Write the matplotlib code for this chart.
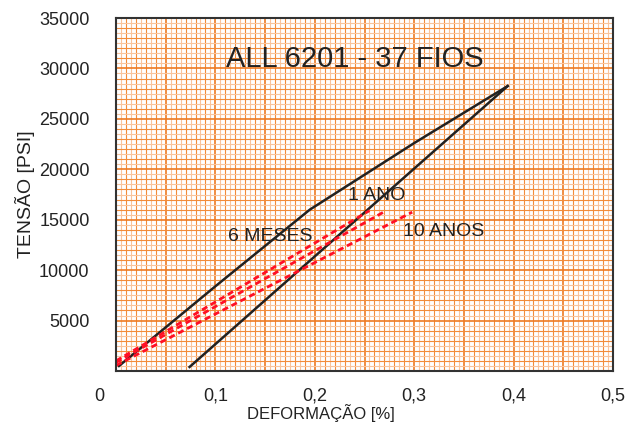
import matplotlib
matplotlib.use("Agg")
import matplotlib.pyplot as plt
import numpy as np

plt.rcParams['font.family'] = ['Liberation Sans', 'DejaVu Sans']

# Data
load_x = [0.003, 0.1, 0.195, 0.3, 0.394]
load_y = [500, 8400, 16000, 22600, 28250]
unload_x = [0.074, 0.394]
unload_y = [400, 28250]

creep_6m_x = [0.0, 0.255]
creep_6m_y = [1000, 15900]
creep_1a_x = [0.0, 0.27]
creep_1a_y = [850, 15800]
creep_10a_x = [0.0, 0.298]
creep_10a_y = [550, 15750]

xticks = [0.1, 0.2, 0.3, 0.4, 0.5]
xticklabels = ["0,1", "0,2", "0,3", "0,4", "0,5"]
yticks = [5000, 10000, 15000, 20000, 25000, 30000, 35000]
yticklabels = ["5000", "10000", "15000", "20000", "25000", "30000", "35000"]

labels = ["6 MESES", "1 ANO", "10 ANOS"]
label_pos = [(0.155, 13300), (0.262, 17400), (0.33, 13800)]
title = "ALL 6201 - 37 FIOS"

fig = plt.figure(figsize=(6.3, 4.23), dpi=100)
ax = fig.add_axes([116/630, 1-371/423, 497/630, 353/423])
ax.set_xlim(0, 0.5)
ax.set_ylim(0, 35000)

# graph-paper grid
for xv in np.arange(0.005, 0.5, 0.005):
    i = int(round(xv / 0.005))
    if i % 10 == 0:
        ax.axvline(xv, color='#EE7A22', lw=1.2, zorder=0)
    elif i % 2 == 0:
        ax.axvline(xv, color='#F28C3A', lw=0.8, zorder=0)
    else:
        ax.axvline(xv, color='#F9C49C', lw=0.8, zorder=0)
for yv in np.arange(500, 35000, 500):
    i = int(round(yv / 500))
    if i % 10 == 0:
        ax.axhline(yv, color='#EE7A22', lw=1.2, zorder=0)
    elif i % 2 == 0:
        ax.axhline(yv, color='#F28C3A', lw=0.8, zorder=0)
    else:
        ax.axhline(yv, color='#F9C49C', lw=0.8, zorder=0)

ax.plot(load_x, load_y, color='#222222', lw=1.8, zorder=3)
ax.plot(unload_x, unload_y, color='#222222', lw=1.8, zorder=3)
for cx, cy in [(creep_6m_x, creep_6m_y), (creep_1a_x, creep_1a_y), (creep_10a_x, creep_10a_y)]:
    ax.plot(cx, cy, color='#FF1025', lw=2.0, ls=(0, (2.2, 1.4)), zorder=4)

for t, (px, py) in zip(labels, label_pos):
    ax.text(px, py, t, fontsize=14, color='#222222', ha='center', va='center', zorder=5)
ax.text(0.24, 30900, title, fontsize=21, color='#222222', ha='center', va='center', zorder=5)

ax.set_xticks(xticks)
ax.set_xticklabels(xticklabels)
ax.set_yticks(yticks)
ax.set_yticklabels(yticklabels)
ax.tick_params(axis='both', length=0, labelsize=13, colors='#222222')
ax.tick_params(axis='x', pad=12)
ax.tick_params(axis='y', pad=19)
ax.annotate("0", xy=(0, 0), xycoords='axes fraction', xytext=(-17, -25),
            textcoords='offset pixels', ha='center', va='center', fontsize=13, color='#222222')

ax.set_xlabel("DEFORMAÇÃO [%]", fontsize=12, color='#222222', va='center')
ax.xaxis.set_label_coords(0.412, -0.118)
ax.set_ylabel("TENSÃO [PSI]", fontsize=14, color='#222222', va='center')
ax.yaxis.set_label_coords(-0.184, 0.5)

for s in ax.spines.values():
    s.set_color('#333333')
    s.set_linewidth(1.5)
    s.set_zorder(6)

fig.savefig("out.png", dpi=100)
